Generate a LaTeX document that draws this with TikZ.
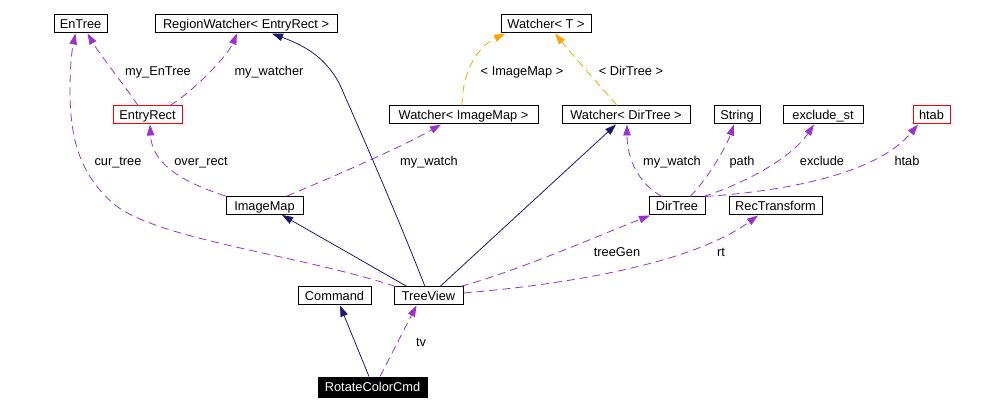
\documentclass[tikz,border=0pt]{standalone}
\usepackage{fontspec}
\setmainfont{Liberation Sans}
\usetikzlibrary{arrows.meta}
\definecolor{purp}{HTML}{9A32CD}
\definecolor{navyb}{HTML}{191970}
\definecolor{orng}{HTML}{FFA500}
\begin{document}
\begin{tikzpicture}[x=1pt,y=-1pt,
  every node/.style={font=\fontsize{12.8}{15}\selectfont, inner sep=0pt, text height=9.2pt, text depth=0pt},
  box/.style={draw=black, line width=1pt, minimum height=18pt, fill=white},
  usee/.style={purp, line width=0.8pt, dash pattern=on 8pt off 5pt, -{Triangle[length=11pt,width=7.5pt]}},
  inh/.style={navyb, line width=0.8pt, -{Triangle[length=11pt,width=7.5pt]}},
  tmpl/.style={orng, line width=0.8pt, dash pattern=on 8pt off 5pt, -{Triangle[length=11pt,width=7.5pt]}},
  lbl/.style={}]
\useasboundingbox[fill=white] (0,0) rectangle (982,411);
% nodes
\node[box, minimum width=53pt] (entree) at (80.5,24) {EnTree};
\node[box, minimum width=182pt] (rw) at (246,24) {RegionWatcher< EntryRect >};
\node[box, minimum width=90pt] (wt) at (546,24) {Watcher< T >};
\node[box, draw=red, minimum width=69pt] (er) at (147.5,115) {EntryRect};
\node[box, minimum width=149pt] (wim) at (463.5,115) {Watcher< ImageMap >};
\node[box, minimum width=128pt] (wdt) at (626,115) {Watcher< DirTree >};
\node[box, minimum width=46pt] (str) at (737,115) {String};
\node[box, minimum width=80pt] (exc) at (823,115) {exclude\_st};
\node[box, draw=red, minimum width=37pt] (htab) at (931.5,115) {htab};
\node[box, minimum width=77pt] (im) at (264.5,205.5) {ImageMap};
\node[box, minimum width=56pt] (dt) at (677,206) {DirTree};
\node[box, minimum width=93pt] (rec) at (775.5,206) {RecTransform};
\node[box, minimum width=73pt] (cmd) at (334.5,296) {Command};
\node[box, minimum width=69pt] (tv) at (428.5,296) {TreeView};
\node[box, fill=black, text=white, minimum width=109pt, minimum height=20pt] (rcc) at (372.5,387) {RotateColorCmd};
% edges
\draw[usee] ([xshift=-9.5]er.north) .. controls (128,90) and (100,55) .. ([xshift=7]entree.south);
\draw[usee] ([xshift=22.5]er.north) .. controls (195,90) and (228,55) .. ([xshift=-9]rw.south);
\draw[usee] (im.north west) .. controls (185,183) and (152,165) .. ([xshift=2.5]er.south);
\draw[usee] ([xshift=2]tv.north west) .. controls (300,255) and (160,240) .. (115,205) .. controls (80,175) and (70,140) .. (70,90) .. controls (70,60) and (73,45) .. ([xshift=-5]entree.south);
\draw[usee] ([xshift=22.5]im.north) .. controls (330,178) and (400,148) .. ([xshift=-22.5]wim.south);
\draw[inh] ([xshift=-21.5]tv.north) -- ([xshift=17.5]im.south);
\draw[inh] ([xshift=-3.5]tv.north) .. controls (395,210) and (362,135) .. (340,85) .. controls (325,55) and (300,44) .. ([xshift=26]rw.south);
\draw[inh] ([xshift=11.5]tv.north) -- ([xshift=-10]wdt.south);
\draw[tmpl] ([xshift=-1.5]wim.north) .. controls (462,80) and (472,50) .. ([xshift=-41]wt.south);
\draw[tmpl] ([xshift=-9]wdt.north) .. controls (595,80) and (570,52) .. ([xshift=9]wt.south);
\draw[usee] ([xshift=-15]dt.north) .. controls (640,185) and (627,160) .. ([xshift=1]wdt.south);
\draw[usee] ([xshift=13]dt.north) .. controls (705,182) and (725,150) .. ([xshift=-3]str.south);
\draw[usee] ([xshift=-2]dt.north east) .. controls (740,185) and (790,160) .. ([xshift=-9]exc.south);
\draw[usee] (dt.north east) .. controls (800,190) and (880,170) .. ([xshift=-13.5]htab.south);
\draw[usee] ([xshift=-3]tv.north east) .. controls (520,270) and (600,235) .. ([xshift=-27]dt.south);
\draw[usee] ([yshift=3]tv.east) .. controls (560,285) and (690,265) .. ([xshift=-17.5]rec.south);
\draw[inh] ([xshift=-3.5]rcc.north) -- ([xshift=5.5]cmd.south);
\draw[usee] ([xshift=7.5]rcc.north) -- ([xshift=-12]tv.south);
% labels
\node[lbl] (l1) at (158,71) {my\_EnTree};
\node[lbl] (l2) at (269,71) {my\_watcher};
\node[lbl] (l3) at (522,71) {< ImageMap >};
\node[lbl] (l4) at (631,71) {< DirTree >};
\node[lbl] (l5) at (118,161) {cur\_tree};
\node[lbl] (l6) at (201,161) {over\_rect};
\node[lbl] (l7) at (429,161) {my\_watch};
\node[lbl] (l8) at (672,161) {my\_watch};
\node[lbl] (l9) at (742,161) {path};
\node[lbl] (l10) at (822,161) {exclude};
\node[lbl] (l11) at (907,161) {htab};
\node[lbl] (l12) at (617,252) {treeGen};
\node[lbl] (l13) at (721,252) {rt};
\node[lbl] (l14) at (421,342) {tv};
\end{tikzpicture}
\end{document}
